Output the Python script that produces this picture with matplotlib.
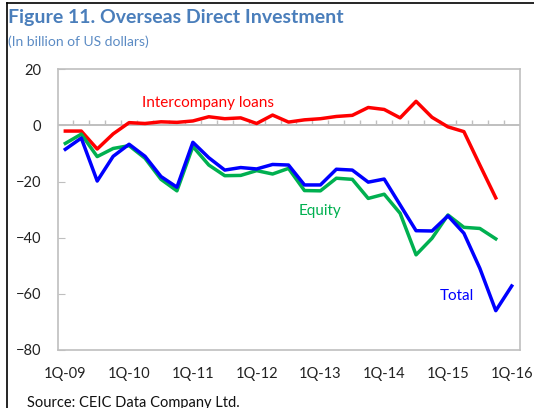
import matplotlib
matplotlib.use("Agg")
import matplotlib.pyplot as plt
from matplotlib.lines import Line2D
import numpy as np

# quarterly data, 1Q-09 .. 1Q-16 (billion USD)
total = [-8.5, -4.5, -19.8, -11.0, -6.7, -11.0, -18.2, -22.0, -6.0, -11.5,
         -15.9, -15.0, -15.5, -13.9, -14.1, -21.2, -21.2, -15.6, -15.9, -20.2,
         -19.1, -28.3, -37.5, -37.6, -32.2, -38.4, -50.9, -66.0, -57.2]
equity = [-6.4, -3.1, -11.1, -8.2, -7.2, -11.7, -19.2, -23.3, -7.5, -14.1,
          -17.9, -17.8, -16.1, -17.3, -15.3, -23.2, -23.3, -18.8, -19.2, -26.0,
          -24.5, -31.3, -46.1, -40.2, -31.9, -36.3, -36.7, -40.4]
loans = [-2.0, -2.0, -8.4, -3.0, 1.0, 0.7, 1.3, 1.1, 1.6, 3.1,
         2.4, 2.7, 0.7, 3.7, 1.2, 2.0, 2.4, 3.2, 3.6, 6.4,
         5.7, 2.7, 8.6, 2.9, -0.5, -2.2, -14.1, -25.8]
xlabels = ["1Q-09", "1Q-10", "1Q-11", "1Q-12", "1Q-13", "1Q-14", "1Q-15", "1Q-16"]

plt.rcParams["font.family"] = "Lato"

fig = plt.figure(figsize=(5.34, 4.08), dpi=100)
fig.patch.set_facecolor("white")
ax = fig.add_axes([0.1086, 0.1422, 0.8646, 0.6879])

ax.plot(np.arange(len(loans)), loans, color="#FF0000", lw=2.5)
ax.plot(np.arange(len(equity)), equity, color="#00B050", lw=2.5)
ax.plot(np.arange(len(total)), total, color="#0000FF", lw=2.5)

ax.set_xlim(-0.46, 28.5)
ax.set_ylim(-80, 20)

grey = "#BFBFBF"
for s in ax.spines.values():
    s.set_color(grey)
    s.set_linewidth(1.2)

# zero axis with category tick marks
ax.axhline(0, color=grey, lw=1.4, zorder=1)
ax.vlines(np.arange(len(total) - 1) + 0.5, 0, 1.8, color=grey, lw=1, zorder=1)

ax.set_yticks(np.arange(-80, 21, 20))
ax.tick_params(axis="y", direction="in", length=5, color=grey, labelsize=10.5,
               pad=12, labelcolor="#222222")
ax.set_xticks(np.linspace(0, len(total) - 1, len(xlabels)))
ax.set_xticklabels(xlabels)
ax.tick_params(axis="x", length=0, labelsize=10.5, pad=12, labelcolor="#222222")


def px(x, y):
    return x / 534, 1 - y / 408


fig.text(*px(320, 211), "Equity", color="#00B050", fontsize=11, ha="center", va="center")
fig.text(*px(457, 296), "Total", color="#0000FF", fontsize=11, ha="center", va="center")
fig.text(*px(208, 103), "Intercompany loans", color="#FF0000", fontsize=11,
         ha="center", va="center")

fig.text(*px(8, 18), "Figure 11. Overseas Direct Investment", color="#4A7EBB",
         fontsize=14, fontweight="bold", ha="left", va="center")
fig.text(*px(8, 42), "(In billion of US dollars)", color="#5B8BC4",
         fontsize=10, ha="left", va="center")
fig.text(*px(27, 396), "Source: CEIC Data Company Ltd.", color="#111111",
         fontsize=10.5, ha="left", va="top")

# frame lines at top and left of the figure box
fig.add_artist(Line2D([7 / 534, 7 / 534], [0, 1 - 3 / 408], color="black", lw=1.2))
fig.add_artist(Line2D([7 / 534, 1], [1 - 3 / 408, 1 - 3 / 408], color="black", lw=1.2))

fig.savefig("out.png", dpi=100)
